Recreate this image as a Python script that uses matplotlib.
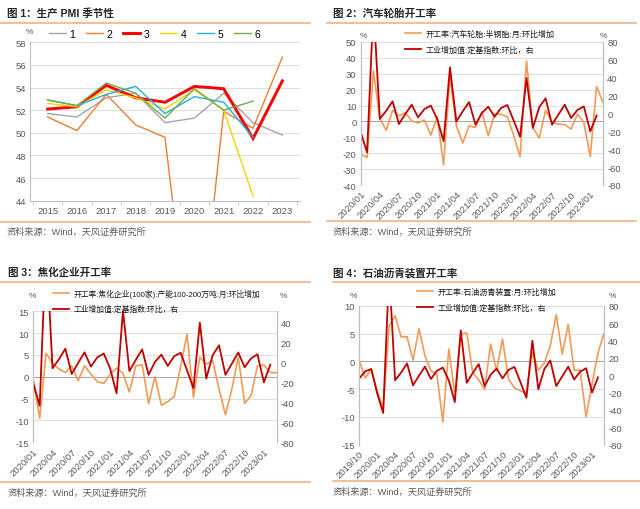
import matplotlib
matplotlib.use('Agg')
import matplotlib.pyplot as plt
from matplotlib.lines import Line2D

plt.rcParams['font.family'] = ['Liberation Sans', 'Noto Sans CJK SC', 'DejaVu Sans']
plt.rcParams['axes.unicode_minus'] = False

# ---------------- data ----------------
years = ['2015', '2016', '2017', '2018', '2019', '2020', '2021', '2022', '2023']
pmi_m1 = [51.7, 51.4, 53.1, 53.5, 50.9, 51.3, 53.5, 50.9, 49.8]
pmi_m2 = [51.4, 50.2, 53.4, 50.7, 49.6, 27.8, 51.9, 50.4, 56.7]
pmi_m3 = [52.1, 52.3, 54.2, 53.1, 52.7, 54.1, 53.9, 49.5, 54.6]
pmi_m4 = [52.6, 52.3, 53.8, 53.1, 52.1, 53.8, 52.0, 44.4]
pmi_m5 = [52.9, 52.4, 53.4, 54.1, 51.7, 53.2, 52.7, 49.6]
pmi_m6 = [52.9, 52.4, 54.4, 53.5, 51.3, 53.9, 52.0, 52.8]
pmi_labels = ['1', '2', '3', '4', '5', '6']

# industrial value added, fixed-base index, MoM (2019/10 .. 2023/02)
ip_mom = [-3.6, 4.5, 7.1, -21, -43.5, 120, -6, 3, 13.6, -11.7, -0.6, 9.9, -4.3, 5, 8.8,
          -6.2, -31, 51.6, -8.8, 2.4, 12.8, -12.5, 0.5, 7.6, -3.6, 6.1, 9.5, -8, -26, 39.7,
          -16.2, 7, 17, -12.5, -1.3, 9.8, -5, 4, 8, -20, -2.4]

# tyre (semi-steel) utilisation MoM change (2020/01 .. 2023/03)
tyre_mom = [-20.6, -22.7, 31.8, 1.9, -5.5, 7, 3.5, 5.6, 0.4, -1, 0.9, -8.6, 3, -27.3, 27.7,
            -2.7, -13.6, -2.7, -3.8, 6, -9, 4.6, 4.6, 2.9, -9, -22.2, 38, -3.8, -10.5, 7.1,
            -0.6, -1.7, -2, -4.8, 4.6, -0.6, -22.2, 22, 12]

# coking utilisation MoM change (2020/01 .. 2023/03)
coke_mom = [-0.7, -9.5, 5.4, 3.1, 1.8, 1.0, 2.5, -0.9, 2.5, 0.6, -1.1, -1.5, 0.6, 2.0, 0.8,
            -3.5, 2.5, 2.8, -6.1, 0.0, -6.5, -5.7, -4.5, 2.3, 9.8, -4.7, 4.5, 2.9, 3.7, -2.8,
            -8.7, -2.8, 4.5, -6.1, -4.3, 2.5, 2.7, 1.0, 0.9]

# asphalt utilisation MoM change (2019/10 .. 2023/03)
asph_mom = [0.1, -3.0, -1.4, -5.3, -8.5, 6.4, 8.2, 4.4, 4.4, 0.2, 5.9, 1.0, -1.7, -2.3, -10.9,
            2.2, -6.0, 4.9, 5.1, -2.0, -3.3, -5.1, 3.1, -1.7, 4.0, -3.2, -4.8, -5.3, -5.8, 1.6,
            -1.6, -0.3, 2.8, 8.4, 1.3, 6.6, -1.6, -1.6, -10.0, -4.0, 1.5, 5.0]

ticks_2020 = ['2020/01', '2020/04', '2020/07', '2020/10', '2021/01', '2021/04', '2021/07',
              '2021/10', '2022/01', '2022/04', '2022/07', '2022/10', '2023/01']
ticks_2019 = ['2019/10'] + ticks_2020

titles = ['图 1：生产 PMI 季节性', '图 2：汽车轮胎开工率', '图 3：焦化企业开工率', '图 4：石油沥青装置开工率']
source = '资料来源：Wind，天风证券研究所'
lab_ip = '工业增加值:定基指数:环比，右'
lab_tyre = '开工率:汽车轮胎:半钢胎:月:环比增加'
lab_coke = '开工率:焦化企业(100家):产能100-200万吨:月:环比增加'
lab_asph = '开工率:石油沥青装置:月:环比增加'

# ---------------- styling ----------------
W, H = 640, 510
ORANGE = '#F39A55'
RED = '#C00000'
SEP = '#F4B183'
GRID = '#D9D9D9'
AXC = '#BFBFBF'
TXT = '#595959'
TICK_FS = 6.8

fig = plt.figure(figsize=(6.4, 5.1), dpi=100)


def fy(y):
    return 1 - y / H


def add_axes(l, t, r, b):
    return fig.add_axes([l / W, 1 - b / H, (r - l) / W, (b - t) / H])


def hline(x0, x1, y):
    fig.add_artist(Line2D([x0 / W, x1 / W], [fy(y), fy(y)], color=SEP, lw=1.2))


def txt(x, y, s, size, color, weight='normal', ha='left'):
    fig.text(x / W, fy(y), s, fontsize=size, color=color, fontweight=weight,
             ha=ha, va='center')


# titles, separators, sources
for (tx, ty, lx0, lx1, ly, sx, sy, sly), t in zip(
        [(7, 14, 0, 310, 23.5, 7, 232, 222.5),
         (333, 14, 327, 636, 24, 333, 232, 222),
         (8, 273, 0, 310, 282.5, 8, 493, 482.5),
         (333, 273, 333, 640, 283, 333, 492, 481.5)], titles):
    txt(tx, ty, t, 7.6, '#262626', weight='bold')
    hline(lx0, lx1, ly)
    hline(lx0, lx1, sly)
    txt(sx, sy, source, 6.6, TXT)

# ---------------- panel 1 ----------------
ax1 = add_axes(30, 43.3, 300, 201.7)
xs = list(range(len(years)))
series = [pmi_m1, pmi_m2, pmi_m3, pmi_m4, pmi_m5, pmi_m6]
cols = ['#A5A5A5', '#ED7D31', '#FF0000', '#FFD000', '#1CB0E8', '#70AD47']
lws = [1.0, 1.0, 2.1, 1.0, 1.0, 1.0]
handles = []
for s, c, w, lab in zip(series, cols, lws, pmi_labels):
    h, = ax1.plot(xs[:len(s)], s, color=c, lw=w, label=lab, solid_joinstyle='miter')
    handles.append(h)
ax1.set_xlim(-0.6, 8.6)
ax1.set_ylim(44, 58)
ax1.set_yticks(range(44, 59, 2))
ax1.set_xticks(xs)
ax1.set_xticklabels(years)
ax1.set_xticks([i + 0.5 for i in range(-1, 9)], minor=True)
ax1.tick_params(axis='x', which='major', length=0, labelsize=TICK_FS, colors=TXT, pad=4)
ax1.tick_params(axis='x', which='minor', length=3, color=AXC)
ax1.tick_params(axis='y', length=0, labelsize=TICK_FS, colors=TXT, pad=3)
ax1.grid(axis='y', color=GRID, lw=0.6)
ax1.set_axisbelow(True)
for sp in ['top', 'right']:
    ax1.spines[sp].set_visible(False)
for sp in ['left', 'bottom']:
    ax1.spines[sp].set_color(AXC)
    ax1.spines[sp].set_linewidth(0.8)
txt(29, 33, '%', 6, TXT, ha='center')
fig.legend(handles, pmi_labels, loc='center left', bbox_to_anchor=(49 / W, fy(35)),
           ncol=6, frameon=False, fontsize=7.5, handlelength=1.6, handletextpad=0.35,
           columnspacing=1.05, borderpad=0, borderaxespad=0)


# ---------------- dual panels ----------------
def dual_panel(box, llim, lticks, rlim, rticks, xmax, tick_labels, oy, ry, olab,
               leg_xy, pct_l, pct_r, leg_fs):
    ax = add_axes(*box)
    ax.plot(range(len(oy)), oy, color=ORANGE, lw=1.2)
    ax.set_ylim(*llim)
    ax.set_yticks(lticks)
    ax.set_xlim(0, xmax)
    ax.set_xticks(range(0, 3 * len(tick_labels), 3))
    ax.set_xticklabels(tick_labels, rotation=45, ha='right', rotation_mode='anchor')
    ax.tick_params(axis='x', length=0, labelsize=TICK_FS, colors=TXT, pad=3)
    ax.tick_params(axis='y', length=0, labelsize=TICK_FS, colors=TXT, pad=3)
    ax.grid(axis='y', color=GRID, lw=0.6)
    ax.axhline(0, color='#A6A6A6', lw=0.7, zorder=1.5)
    ax.set_axisbelow(True)
    ax2 = ax.twinx()
    ax2.plot(range(len(ry)), ry, color=RED, lw=1.3)
    ax2.set_ylim(*rlim)
    ax2.set_yticks(rticks)
    ax2.tick_params(axis='y', length=0, labelsize=TICK_FS, colors=TXT, pad=3)
    for a in (ax, ax2):
        for sp in ['top', 'bottom']:
            a.spines[sp].set_visible(False)
        for sp in ['left', 'right']:
            a.spines[sp].set_color(AXC)
            a.spines[sp].set_linewidth(0.8)
    hs = [Line2D([], [], color=ORANGE, lw=1.2), Line2D([], [], color=RED, lw=1.3)]
    fig.legend(hs, [olab, lab_ip], loc='upper left',
               bbox_to_anchor=(leg_xy[0] / W, fy(leg_xy[1])), frameon=False,
               fontsize=leg_fs, handlelength=2.0, handletextpad=0.6, labelspacing=0.95,
               borderpad=0, borderaxespad=0, labelcolor='#1a1a1a')
    txt(pct_l[0], pct_l[1], '%', 6, TXT, ha='center')
    txt(pct_r[0], pct_r[1], '%', 6, TXT, ha='center')


dual_panel((360.7, 43, 603, 186), (-40, 50), range(-40, 51, 10), (-80, 80),
           range(-80, 81, 20), 38, ticks_2020, tyre_mom, ip_mom[3:], lab_tyre,
           (405, 31), (363, 37), (603, 37), 5.8)
dual_panel((33.3, 312.3, 276.7, 443.3), (-15, 15), range(-15, 16, 5), (-80, 51),
           range(-80, 41, 20), 38, ticks_2020, coke_mom, ip_mom[3:], lab_coke,
           (53, 289.5), (32, 297), (283, 297), 5.6)
dual_panel((359.3, 306.7, 604, 445.7), (-15, 10), range(-15, 11, 5), (-80, 80),
           range(-80, 81, 20), 41, ticks_2019, asph_mom, ip_mom, lab_asph,
           (417, 289), (353, 297), (612, 297), 5.8)

fig.savefig('out.png', dpi=100)
